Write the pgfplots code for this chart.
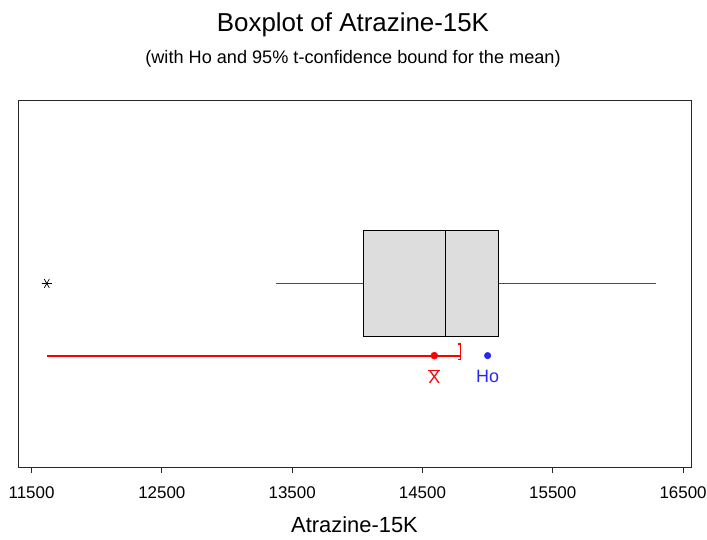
\documentclass[border=0pt]{standalone}
\usepackage{fontspec}
\setmainfont{Liberation Sans}
\usepackage{pgfplots}
\pgfplotsset{compat=1.18}
\usepgfplotslibrary{statistics}

\definecolor{boxfill}{RGB}{221,221,221}
\definecolor{cired}{RGB}{255,0,0}
\definecolor{hoblue}{RGB}{40,40,240}
\definecolor{frame}{RGB}{40,40,40}

\begin{document}
\begin{tikzpicture}[x=1bp,y=1bp]
\useasboundingbox (-18,-73) rectangle (689,467);
\begin{axis}[
  at={(0,0)}, anchor=south west,
  scale only axis, width=673bp, height=367bp,
  xmin=11396, xmax=16561, ymin=0, ymax=1,
  axis line style={frame, line width=0.8bp},
  xtick={11500,12500,...,16500}, ytick=\empty,
  scaled x ticks=false,
  xtick pos=lower, tick align=outside, major tick length=6bp,
  tick style={frame, line width=0.8bp},
  xticklabel style={font=\fontsize{17}{17}\selectfont, text=black, yshift=-10bp},
  /pgf/number format/set thousands separator={},
  /pgf/number format/assume math mode=true,
  xlabel={Atrazine-15K},
  xlabel style={font=\fontsize{22}{22}\selectfont, at={(axis description cs:0.5,0)}, anchor=center, yshift=-58bp},
  boxplot/every box/.style={draw=black, fill=boxfill, line width=0.8bp},
  boxplot/every median/.style={draw=black, line width=0.8bp},
  boxplot/every whisker/.style={draw=black!70, line width=0.8bp},
]
% lower 95% t-confidence bound for the mean
\addplot[draw=cired, line width=2bp, mark=none, forget plot] table {
x     y
11617 0.3035
14794 0.3035
};
\addplot[draw=cired, line width=1.3bp, mark=none, forget plot] table {
x     y
14770 0.335
14794 0.335
14794 0.292
14770 0.292
};
% box and whiskers (summary statistics)
\addplot[boxplot prepared={
    lower whisker=13376, lower quartile=14046, median=14676,
    upper quartile=15085, upper whisker=16293,
    draw position=0.5, box extend=0.29, whisker extend=0,
    draw direction=x}] coordinates {};
% outlier
\addplot[only marks, mark=asterisk, mark size=5bp, mark options={rotate=90}, black, line width=0.7bp] coordinates {(11617,0.5)};
% sample mean and hypothesized mean
\addplot[only marks, mark=*, mark size=3.5bp, cired] coordinates {(14591,0.3035)};
\addplot[only marks, mark=*, mark size=3.3bp, hoblue] coordinates {(15000,0.3035)};
\node[text=cired, font=\fontsize{18}{18}\selectfont, inner sep=0pt] at (axis cs:14591,0.247) {$\overline{\hbox{X}}$};
\node[text=hoblue, font=\fontsize{18}{18}\selectfont, inner sep=0pt] at (axis cs:15000,0.247) {Ho};
\end{axis}
\node[font=\fontsize{26}{26}\selectfont] at (335,442) {Boxplot of Atrazine-15K};
\node[font=\fontsize{18.2}{18.2}\selectfont] at (335,408) {(with Ho and 95\% t-confidence bound for the mean)};
\end{tikzpicture}
\end{document}
